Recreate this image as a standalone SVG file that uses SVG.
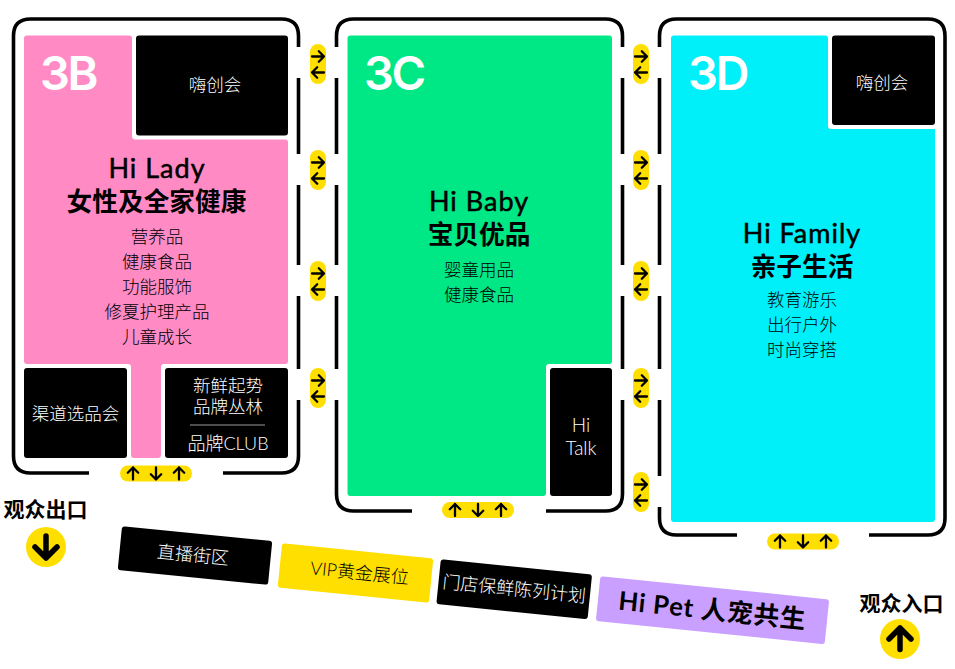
<svg xmlns="http://www.w3.org/2000/svg" xmlns:xlink="http://www.w3.org/1999/xlink" width="955" height="669" viewBox="0 0 955 669">
<style>
text{font-family:"Lato","Noto Sans CJK SC",sans-serif;text-anchor:middle;dominant-baseline:central}
.wall{fill:none;stroke:#000;stroke-width:3.6}
.big{font-family:"Inter","Noto Sans CJK SC",sans-serif;font-size:47px;font-weight:600;letter-spacing:-2.500px;fill:#fff;text-anchor:start}
.h{font-size:25.700px;font-weight:700;fill:#000}
.n{font-size:27px;font-weight:400;fill:#000;stroke:#000;stroke-width:.5;letter-spacing:1px}
.l{font-size:17.500px;font-weight:300;fill:#000}
.w{font-size:17.500px;font-weight:300;fill:#fff}
.e{font-size:21px;font-weight:700;fill:#000}
.ar{fill:none;stroke:#000;stroke-width:2.3;stroke-linecap:round;stroke-linejoin:round}
.ab{fill:none;stroke:#000;stroke-width:5.500;stroke-linecap:round;stroke-linejoin:round}
.y{fill:#ffdf00}
</style>
<defs>
<path id="a" class="ar" d="M0 6V-6M-5.200-.8L0-6L5.200-.8"/>
<g id="pv"><rect class="y" x="-8" y="-20" width="16" height="40" rx="8"/><use xlink:href="#a" transform="translate(0 -7.500) rotate(90)"/><use xlink:href="#a" transform="translate(0 8.500) rotate(-90)"/></g>
<g id="ph"><rect class="y" x="-36" y="-8" width="72" height="16" rx="8"/><use xlink:href="#a" transform="translate(-23 0)"/><use xlink:href="#a" transform="rotate(180)"/><use xlink:href="#a" transform="translate(23 0)"/></g>
</defs>
<rect width="955" height="669" fill="#fff"/>
<g id="connectors">
<path class="wall" d="M298.500 47V36Q298.500 19 281.500 19H30.500Q13.500 19 13.500 36V456Q13.500 473 30.500 473H89M223 473H281.500Q298.500 473 298.500 456V400M298.500 369V296M298.500 265V185M298.500 154V78"/>
<path class="wall" d="M336.500 47V36Q336.500 19 353.500 19H605.500Q622.500 19 622.500 36V47M622.500 78V154M622.500 185V265M622.500 296V369M622.500 400V494Q622.500 511 605.500 511H546M412 511H353.500Q336.500 511 336.500 494V400M336.500 369V296M336.500 265V185M336.500 154V78"/>
<path class="wall" d="M659.500 47V36Q659.500 19 676.500 19H928Q945 19 945 36V518Q945 535 928 535H869M737 535H676.500Q659.500 535 659.500 518V507M659.500 476V400M659.500 369V296M659.500 265V185M659.500 154V78"/>
<use xlink:href="#pv" x="318" y="64"/><use xlink:href="#pv" x="318" y="170"/><use xlink:href="#pv" x="318" y="281"/><use xlink:href="#pv" x="318" y="388"/>
<use xlink:href="#pv" x="641" y="64"/><use xlink:href="#pv" x="641" y="170"/><use xlink:href="#pv" x="641" y="281"/><use xlink:href="#pv" x="641" y="388"/><use xlink:href="#pv" x="641" y="492"/>
<use xlink:href="#ph" x="156" y="473.500"/><use xlink:href="#ph" x="478" y="510"/><use xlink:href="#ph" x="803" y="541.500"/>
</g>
<g id="zone-3b">
<path fill="#ff8ac4" d="M27 35.500H129Q132 35.500 132 38.500V136Q132 139.500 135.500 139.500H285Q288 139.500 288 142.500V361Q288 364 285 364H164Q161 364 161 367V455Q161 458 158 458H134Q131 458 131 455V367Q131 364 128 364H27Q24 364 24 361V38.500Q24 35.500 27 35.500Z"/>
<text class="big" x="40" y="72">3B</text>
<text class="n" x="157" y="167">Hi Lady</text>
<text class="h" x="156.500" y="201">女性及全家健康</text>
<text class="l" x="157" y="236">营养品</text><text class="l" x="157" y="261">健康食品</text><text class="l" x="157" y="286">功能服饰</text><text class="l" x="157" y="311">修夏护理产品</text><text class="l" x="157" y="336">儿童成长</text>
</g>
<g id="hi-create-b"><rect x="136" y="35.500" width="152" height="100" rx="3"/><text class="w" x="215" y="84">嗨创会</text></g>
<g id="channel"><rect x="24" y="368" width="103" height="90" rx="3"/><text class="w" x="75.500" y="413">渠道选品会</text></g>
<g id="brand"><rect x="165" y="368" width="123" height="90" rx="3"/><text class="w" x="228" y="385">新鲜起势</text><text class="w" x="228" y="406">品牌丛林</text><path d="M190 425H265" stroke="#999" stroke-width="1.200"/><text class="w" x="228" y="443" style="font-size:18px">品牌CLUB</text></g>
<g id="zone-3c">
<path fill="#00e786" d="M350.500 35.500H609Q612 35.500 612 38.500V361Q612 364 609 364H549Q546 364 546 367V493Q546 496 543 496H350.500Q347.500 496 347.500 493V38.500Q347.500 35.500 350.500 35.500Z"/>
<text class="big" x="364" y="72">3C</text>
<text class="n" x="479" y="200">Hi Baby</text>
<text class="h" x="479" y="234">宝贝优品</text>
<text class="l" x="479" y="269">婴童用品</text><text class="l" x="479" y="294">健康食品</text>
</g>
<g id="hi-talk"><rect x="550" y="368" width="62" height="128" rx="3"/><text class="w" x="581" y="424" style="font-size:19px">Hi</text><text class="w" x="581" y="447" style="font-size:19px">Talk</text></g>
<g id="zone-3d">
<path fill="#00f0fa" d="M674 35.500H825Q828 35.500 828 38.500V126Q828 129 831 129H935V519Q935 522 932 522H674Q671 522 671 519V38.500Q671 35.500 674 35.500Z"/>
<text class="big" x="688" y="72">3D</text>
<text class="n" x="802" y="232">Hi Family</text>
<text class="h" x="802" y="266">亲子生活</text>
<text class="l" x="802" y="299">教育游乐</text><text class="l" x="802" y="324">出行户外</text><text class="l" x="802" y="349">时尚穿搭</text>
</g>
<g id="hi-create-d"><rect x="832" y="35.500" width="103" height="89.500" rx="3"/><text class="w" x="882" y="82.500">嗨创会</text></g>
<g id="live" transform="translate(195 555.500) rotate(5.700)"><rect x="-75.500" y="-22" width="151" height="44" rx="3"/><text class="w" x="-2" y="-1" style="font-size:18px">直播街区</text></g>
<g id="vip" transform="translate(355.500 572.800) rotate(5.800)"><rect x="-76" y="-22" width="152" height="44.500" rx="3" fill="#ffdf00"/><text class="l" x="4" y="-1" style="font-size:18px">VIP黄金展位</text></g>
<g id="store" transform="translate(514.200 589.200) rotate(5.800)"><rect x="-76" y="-22.500" width="152" height="45" rx="3"/><text class="w" x="0" y="-1" style="font-size:18px">门店保鲜陈列计划</text></g>
<g id="pet" transform="translate(712.500 610.200) rotate(5.800)"><rect x="-115" y="-22.500" width="230" height="45" rx="3" fill="#c9a0ff"/><text class="h" x="0" y="-1" style="letter-spacing:.8px">Hi Pet 人宠共生</text></g>
<g id="exit"><text class="e" x="45.500" y="508">观众出口</text><circle class="y" cx="46" cy="547" r="20"/><path class="ab" d="M46 558V536M35 547L46 558L57 547"/></g>
<g id="enter"><text class="e" x="901.500" y="602.500">观众入口</text><circle class="y" cx="900" cy="639" r="20"/><path class="ab" d="M900 649.500V628M889 639L900 628L911 639"/></g>
</svg>
